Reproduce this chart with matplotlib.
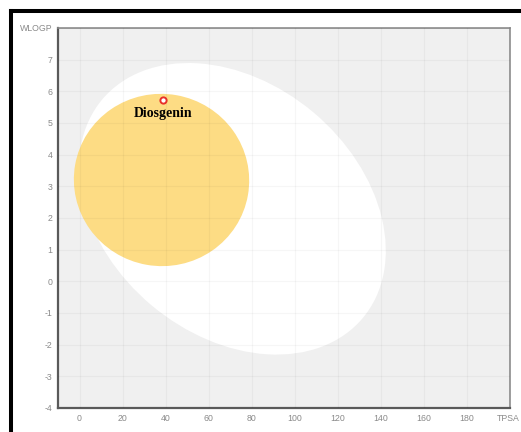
import matplotlib.pyplot as plt
from matplotlib.patches import Ellipse
from matplotlib.transforms import Affine2D, ScaledTranslation
from matplotlib.lines import Line2D

# молекула: TPSA и WLOGP
names = ['Diosgenin']
tpsa = [38.69]
wlogp = [5.72]

# белок (HIA) и желток (BBB): центр, оси, угол поворота
hia_center = (71.05, 2.29)
hia_axes = (158, 117)
hia_angle = -40
bbb_center = (38.1, 3.2)
bbb_axes = (81.5, 80)
bbb_angle = -10

x_ticks = [0, 20, 40, 60, 80, 100, 120, 140, 160, 180, 200]
x_labels = ['0', '20', '40', '60', '80', '100', '120', '140', '160', '180', 'TPSA']
y_ticks = [-4, -3, -2, -1, 0, 1, 2, 3, 4, 5, 6, 7, 8]
y_labels = ['-4', '-3', '-2', '-1', '0', '1', '2', '3', '4', '5', '6', '7', 'WLOGP']

fig = plt.figure(figsize=(5.21, 4.32), dpi=100)
ax = fig.add_axes([0.1113, 0.0556, 0.8676, 0.8796])
ax.set_facecolor('#f0f0f0')
ax.set_xlim(-10, 200)
ax.set_ylim(-4, 8)

# коэффициент, чтобы эллипсы рисовались в "квадратных" пикселях
bb = ax.get_window_extent()
k = (bb.height / 12) / (bb.width / 210)
egg_tf = Affine2D().scale(1, 1 / k) + ax.transData

ax.add_patch(Ellipse((hia_center[0], hia_center[1] * k), hia_axes[0], hia_axes[1],
                     angle=hia_angle, transform=egg_tf, fc='white', ec='none', zorder=1))
ax.add_patch(Ellipse((bbb_center[0], bbb_center[1] * k), bbb_axes[0], bbb_axes[1],
                     angle=bbb_angle, transform=egg_tf, fc='#fddc84', ec='none', zorder=1.5))

ax.set_axisbelow(False)
ax.grid(True, color='black', alpha=0.035, lw=0.9)

ax.plot(tpsa, wlogp, 'o', ms=4.5, mfc='white', mec='#e8302a', mew=1.4, zorder=4)
for n, x, y in zip(names, tpsa, wlogp):
    ax.annotate(n, (x, y), xytext=(0, -9.5), textcoords='offset points',
                ha='center', va='center', fontsize=10, fontweight='bold',
                family='Liberation Serif', color='black', zorder=5)

ax.set_xticks(x_ticks)
ax.set_xticklabels(x_labels)
ax.set_yticks(y_ticks)
ax.set_yticklabels(y_labels)
ax.tick_params(length=0, labelsize=6.3, labelcolor='#8a8a8a', pad=4)
for lab in ax.get_xticklabels() + ax.get_yticklabels():
    lab.set_family('Liberation Sans')
# подпись TPSA чуть левее, чтобы не обрезалась
tl = ax.get_xticklabels()[-1]
tl.set_transform(tl.get_transform() + ScaledTranslation(-2 / 100, 0, fig.dpi_scale_trans))

for s in ['left', 'bottom']:
    ax.spines[s].set_color('#5a5a5a')
    ax.spines[s].set_linewidth(1.6)
for s in ['top', 'right']:
    ax.spines[s].set_color('#8c8c8c')
    ax.spines[s].set_linewidth(1.2)

# чёрная рамка слева и сверху
W, H = 521, 432
fig.add_artist(Line2D([11.3 / W, 11.3 / W], [0, 1 - 11.3 / H], color='black', lw=2.9,
                      solid_capstyle='projecting'))
fig.add_artist(Line2D([11.3 / W, 1], [1 - 11.3 / H, 1 - 11.3 / H], color='black', lw=2.9,
                      solid_capstyle='projecting'))

fig.savefig('out.png', dpi=100)
